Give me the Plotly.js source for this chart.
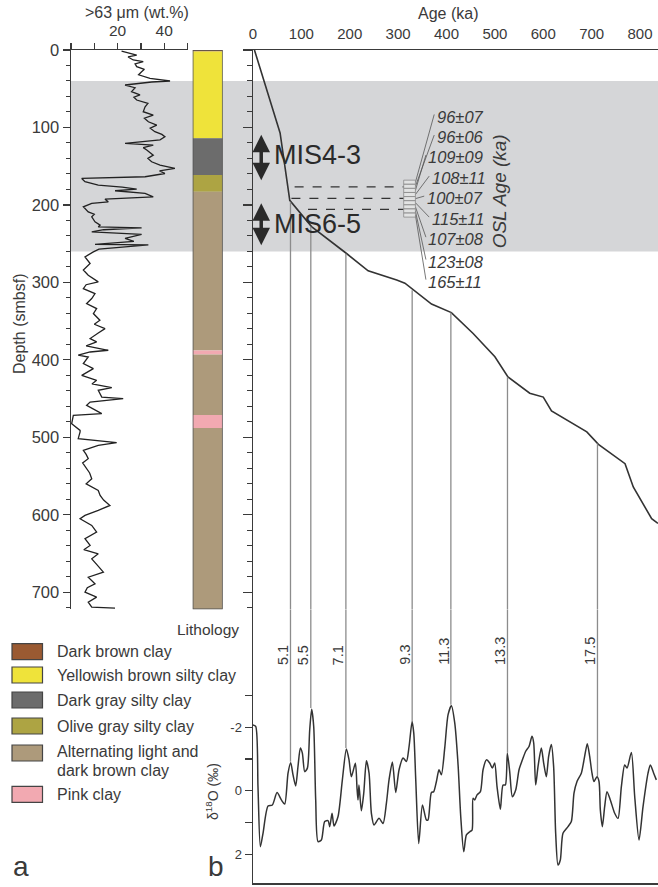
<!DOCTYPE html>
<html><head><meta charset="utf-8">
<script src="https://cdn.plot.ly/plotly-3.0.1.min.js"></script>
<style>html,body{margin:0;padding:0;background:#fff}#chart{width:658px;height:887px}</style>
</head><body><div id="chart"></div>
<script>
// ---------------- DATA ----------------
// (a) >63 µm sand content vs depth
const sandDepth = [1.3,4.3,6.5,9,12.9,15,18,21.5,25,28,32,36.6,40,41.3,45.2,48.7,53.8,58,61,64.6,69,73.2,79.7,84,88,92.6,96.9,101,105.5,109,112,116,120.6,122.7,126,129,135.7,140,144.3,148.6,152.9,156,159.4,163.6,165.8,170,174.4,177,179.6,181.7,185,189.5,192.5,196,198,202.4,208.9,212,215.4,221.8,226,228.3,229.5,232,234.7,238,243.3,247,251,251.5,254,257,260.6,267,275.6,284,290.7,299.3,303,308,314.4,320.8,327.3,333.8,340.2,348.8,354,359.6,365.2,372.5,376.8,382,387.6,389.8,394,396.3,404.8,411.3,420,426.4,431,435.8,439.3,448,450,454.4,458.7,464,469.4,471.6,482.3,491,493,501.7,506.9,510.3,516.8,522,527.5,533,540.4,546,553.4,560,568.5,575,581,587.9,594.3,600.8,605,613.7,622.3,630.9,639.5,645,650.3,656.8,664,674,680.5,689.1,694,699.9,706.3,712.8,719.2,720.5];
const sandPct   = [21.7,26,28.2,24.5,26.7,31,27.5,28.2,31.5,30.3,29,33.9,42.5,34.6,23.2,27.5,26,29.6,27,28.2,33,31.8,31,35.3,31.5,33.2,36.8,34,36,39,40.3,38.2,23.2,35.3,31,32.5,35.3,33,34.6,38.2,44.6,38,40.3,31.8,4.6,6,11.7,22,28.2,18.9,31.8,35.3,14.6,16,8.9,5.3,7.4,10,8.9,10.3,12.5,11.7,30.3,14,8.9,30.3,23.2,27,10.3,33.2,23.2,12,9.6,6,8.2,5.3,7.4,11.7,6.5,5.3,10.3,8.9,6.7,11,9.6,12.4,10,14.6,11.7,8.2,11,6.5,16,8.2,3.1,7.4,5.3,9.6,4.6,11,9,17.5,11.7,13.2,22.4,8.2,6.7,10,13.2,1,0.3,3.9,3.9,3.1,19.6,11.7,5.3,6.5,7.4,5,6.7,8,8.9,6.5,11.7,12.5,14,16.7,11.7,6,3.9,8.9,11,6,8.2,5.5,11.7,8.9,11,13.9,7.4,10.3,7,6,11,7.4,8.9,18.9];

// lithology column
const lithNames  = ['Dark brown clay','Yellowish brown silty clay','Dark gray silty clay','Olive gray silty clay','Alternating light and dark brown clay','Pink clay'];
const layerTop    = [0,2,114,161.5,183,388,393,471,488];
const layerBottom = [2,114,161.5,183,388,393,471,488,722];
const layerType   = [0,1,2,3,4,5,4,5,4];

// (b) age-depth model
const modelAge   = [3,56,76,121,194,238,297,314,369,410,455,500,527,572,600,617,690,714,769,786,824,837];
const modelDepth = [0,107,194,228,263,285,297,301,328,339,366,396,422,443,448,466,493,509,534,564,605,611];

// MIS tie points
const misLabels = ['5.1','5.5','7.1','9.3','11.3','13.3','17.5'];
const misAge    = [77.5,119.5,192,329,409,526,712];
const misDepth  = [196,228,263,310,339,422,508];
const misD18O   = [-0.91,-2.6,-1.34,-2.17,-2.7,-1.19,-0.44];

// benthic d18O stack
const d18Age = [0,5.6,10.3,15.2,20.7,31.1,40,49.7,58.6,65.5,72.4,77.9,82.7,88.2,93,97.9,102,106.9,112.4,117.2,121.3,125.5,129.6,134.5,141.3,148.2,155.1,158.6,163.4,167.5,175.8,184.7,193,198.5,203.3,211.6,215,217,219,224,228.9,234.4,239.9,244.7,250.2,260.5,268.8,275.7,281.2,288.1,295,301.9,310.2,317.1,322.6,328.8,332.3,336.4,342.6,350.2,358.4,361.8,368.7,373.5,379.1,384.5,389.4,396.3,403.2,410.1,417,423.9,429.4,435.6,441.1,448,452.8,454.8,458.3,463.1,470,475.5,482.4,489.3,494.8,499.6,504.4,511.3,516.8,521.6,525.7,530.6,536.1,543,549.9,556.8,563.7,570.5,576.7,580.2,584.3,589.1,596,600.8,606.3,611.1,616.6,621.4,625.6,630.4,635.2,640.7,651.1,658,663.5,669.7,678.6,685.5,691,695.9,700.7,704.8,711,715.2,717.9,722.1,726.9,731.7,738.6,747.6,754.5,761.4,768.3,773.1,782.1,789,797.9,806.2,816.5,821.3,828.2,833.7];
const d18Val = [-2.07,-2.02,-0.13,1.76,1.34,0.48,0.45,0.06,0.29,0.42,-0.55,-0.88,-0.5,-0.15,-0.76,-1.34,-1.18,-0.6,-0.71,-1.91,-2.56,-2.01,0.29,1.6,1.55,0.97,0.94,1.13,0.71,1.11,0.81,-0.34,-1.31,-0.97,-0.44,-0.86,-0.07,0.29,-0.18,0.63,0.08,-0.94,-0.55,0.71,1.08,0.87,1.03,0.4,-0.34,-0.9,0.06,-0.66,-1.03,-0.92,-1.39,-2.17,-1.81,-0.34,1.66,0.45,0.92,0.92,0.06,0.03,-0.29,-0.66,-0.5,-1.34,-2.39,-2.67,-2.13,-0.81,0.81,1.92,1.39,1.29,1.24,0.24,0.29,0.13,0.03,-0.66,-0.97,-0.87,-0.71,-0.87,-0.13,0.58,-0.18,-0.18,-1.18,-0.6,0.19,-0.02,-0.66,-0.97,-1.24,-1.39,-1.71,-1.5,-0.18,-0.76,-1.34,-0.87,-0.44,-1.08,-1.45,-0.76,1.34,2.34,2.18,1.34,1.13,0.97,0.08,-0.29,-0.55,-1.08,-1.48,-1.08,-0.55,-0.29,-0.44,-0.29,0.6,1.13,0.5,0.03,0.29,0.71,0.87,-0.13,-0.81,-0.71,-1.2,0.19,1.55,0.5,-0.55,-0.81,-0.55,-0.34];

// OSL samples
const oslLabels = ['96±07','96±06','109±09','108±11','100±07','115±11','107±08','123±08','165±11'];
const oslTop    = [168,173.3,178.6,183.9,189.2,194.5,199.8,205.1,210.4];
const oslBottom = [173.3,178.6,183.9,189.2,194.5,199.8,205.1,210.4,215.7];
const oslTieDepth = [176.6,191.6,205.8];
const oslTieStartAge = [86,79.4,113.7];

// MIS stage brackets
const stageNames = ['MIS4-3','MIS6-5'];
const stageTop   = [107.6,196];
const stageBot   = [168,252];
const bandTop = 40, bandBottom = 260;

// ---------------- STYLE / LAYOUT ----------------
const W=658,H=887;
const px = v => v/W, py = v => 1 - v/H;
const FONT = 'Liberation Sans, Arial, sans-serif';
const TXT = '#3a3a3a', AX = '#3a3a3a';
const lithColors = ['#9a5a32','#efe33a','#6c6c6c','#ada443','#ad9a7b','#f2a9b1'];

const depthMax = 722;
const depthTopPx = 50, depthPxPerM = 0.7747;
const depthBotPx = depthTopPx + depthMax*depthPxPerM;
const ageLeftPx = 253, agePxPerKa = 0.4838;
const ageMax = (W - ageLeftPx)/agePxPerKa;
const d0px = 790.7, dPx = 31.8;
const dTop = (depthBotPx - d0px)/dPx, dBot = (883 - d0px)/dPx;

const traces = [];
// sand curve
traces.push({type:'scatter',mode:'lines',x:sandPct,y:sandDepth,xaxis:'x',yaxis:'y',
  line:{color:'#222',width:1.3},hoverinfo:'skip'});
// lithology bars
traces.push({type:'bar',x:layerTop.map(()=>0),y:layerBottom.map((b,i)=>b-layerTop[i]),base:layerTop,
  width:1,xaxis:'x4',yaxis:'y',marker:{color:layerType.map(t=>lithColors[t]),line:{width:0}},hoverinfo:'skip'});
// age-depth model
traces.push({type:'scatter',mode:'lines',x:modelAge,y:modelDepth,xaxis:'x2',yaxis:'y2',
  line:{color:'#333',width:1.6},hoverinfo:'skip'});
// MIS vertical tie lines
const vx=[],vy=[],wx=[],wy=[];
misAge.forEach((a,i)=>{vx.push(a,a,null);vy.push(misDepth[i],depthMax,null);
  wx.push(a,a,null);wy.push(dTop,misD18O[i],null);});
traces.push({type:'scatter',mode:'lines',x:vx,y:vy,xaxis:'x2',yaxis:'y2',line:{color:'#8c8c8c',width:1.3},hoverinfo:'skip'});
traces.push({type:'scatter',mode:'lines',x:wx,y:wy,xaxis:'x3',yaxis:'y3',line:{color:'#8c8c8c',width:1.3},hoverinfo:'skip'});
// d18O curve
traces.push({type:'scatter',mode:'lines',x:d18Age,y:d18Val,xaxis:'x3',yaxis:'y3',
  line:{color:'#333',width:1.5,shape:'spline',smoothing:0.7},hoverinfo:'skip'});
// dashed OSL tie lines
const boxAge0 = 311.5, boxAge1 = 335.7;
const dx=[],dy=[];
oslTieDepth.forEach((d,i)=>{dx.push(oslTieStartAge[i],boxAge0,null);dy.push(d,d,null);});
traces.push({type:'scatter',mode:'lines',x:dx,y:dy,xaxis:'x2',yaxis:'y2',line:{color:'#333',width:1.3,dash:'dash'},hoverinfo:'skip'});
// OSL label positions (layout)
const oslLabAge = [375.6,375.6,358.4,365.2,354.9,365.2,358.4,358.4,358.4];
const oslLabDepth = [86.2,112.8,138.6,165.8,191.6,218.7,244.6,273.5,299.4];
const lx=[],ly=[];
oslLabels.forEach((l,i)=>{lx.push(boxAge1,oslLabAge[i]-1,null);ly.push((oslTop[i]+oslBottom[i])/2,oslLabDepth[i]-3,null);});
traces.push({type:'scatter',mode:'lines',x:lx,y:ly,xaxis:'x2',yaxis:'y2',line:{color:'#555',width:0.8},hoverinfo:'skip'});

const shapes = [];
shapes.push({type:'rect',xref:'paper',yref:'y',x0:px(71),x1:1,y0:bandTop,y1:bandBottom,fillcolor:'#d5d6d8',line:{width:0},layer:'below'});
shapes.push({type:'rect',xref:'x4',yref:'y',x0:-0.5,x1:0.5,y0:0,y1:depthMax,fillcolor:'rgba(0,0,0,0)',line:{color:'#555',width:1.5}});
oslTop.forEach((t,i)=>shapes.push({type:'rect',xref:'x2',yref:'y2',x0:boxAge0,x1:boxAge1,y0:t,y1:oslBottom[i],
  fillcolor:'rgba(235,235,235,0.6)',line:{color:'#8a8a8a',width:0.8}}));

const annotations = [];
const A = o => annotations.push(Object.assign({showarrow:false,xanchor:'center',yanchor:'middle',font:{family:FONT,size:16,color:TXT}},o));
A({text:'>63 μm (wt.%)',xref:'paper',yref:'paper',x:px(136.7),y:py(13)});
A({text:'Age (ka)',xref:'paper',yref:'paper',x:px(448),y:py(14)});
A({text:'Depth (smbsf)',xref:'paper',yref:'paper',x:px(19),y:py(324),textangle:-90});
A({text:'δ<sup>18</sup>O (‰)',xref:'paper',yref:'paper',x:px(212),y:py(792),textangle:-90,font:{family:FONT,size:14,color:TXT}});
A({text:'Lithology',xref:'paper',yref:'paper',x:px(208),y:py(629),font:{family:FONT,size:15.5,color:TXT}});
A({text:'a',xref:'paper',yref:'paper',x:px(21),y:py(866),font:{family:FONT,size:28,color:TXT}});
A({text:'b',xref:'paper',yref:'paper',x:px(216),y:py(866),font:{family:FONT,size:28,color:TXT}});
// MIS labels
misLabels.forEach((l,i)=>A({text:l,xref:'x3',yref:'y3',x:misAge[i],y:(667-d0px)/dPx,yanchor:'bottom',xshift:-7.5,textangle:-90,font:{family:FONT,size:14.5,color:TXT}}));
// stage brackets
stageNames.forEach((s,i)=>{
  annotations.push({xref:'x2',yref:'y2',axref:'x2',ayref:'y2',x:17,y:stageBot[i],ax:17,ay:stageTop[i],text:'',
    showarrow:true,arrowhead:2,arrowside:'end+start',arrowwidth:3.5,arrowsize:1,arrowcolor:'#2a2a2a'});
  A({text:s,xref:'x2',yref:'y2',x:40,y:(stageTop[i]+stageBot[i])/2+ (i===0?-2:0),xanchor:'left',font:{family:FONT,size:27,color:'#2a2a2a'}});
});
// OSL labels
oslLabels.forEach((l,i)=>A({text:'<i>'+l+'</i>',xref:'x2',yref:'y2',x:oslLabAge[i],y:oslLabDepth[i],xanchor:'left',font:{family:FONT,size:16.5,color:TXT}}));
A({text:'<i>OSL Age (ka)</i>',xref:'x2',yref:'y2',x:510,y:182.8,textangle:-90,font:{family:FONT,size:19,color:TXT}});
// legend
const legY = [651.7,675,700,726,753,794.3];
lithNames.forEach((n,i)=>{
  shapes.push({type:'rect',xref:'paper',yref:'paper',x0:px(12),x1:px(42.5),y0:py(legY[i]-8),y1:py(legY[i]+8),
    fillcolor:lithColors[i],line:{color:'#444',width:1.2}});
  if(i===4){
    A({text:'Alternating light and',xref:'paper',yref:'paper',x:px(55),y:py(751.5),xanchor:'left'});
    A({text:'dark brown clay',xref:'paper',yref:'paper',x:px(55),y:py(770),xanchor:'left'});
  } else {
    A({text:n,xref:'paper',yref:'paper',x:px(55),y:py(legY[i]),xanchor:'left'});
  }
});

const tf = (s)=>({family:FONT,size:s,color:TXT});
const layout = {
  width:W,height:H,margin:{l:0,r:0,t:0,b:0},paper_bgcolor:'#fff',plot_bgcolor:'rgba(0,0,0,0)',
  showlegend:false,barmode:'overlay',font:{family:FONT,color:TXT},
  xaxis:{domain:[px(71),px(71+50*2.33)],range:[0,50],side:'top',anchor:'y',showline:true,linecolor:AX,linewidth:1.5,
    tickvals:[0,10,20,30,40,50],ticktext:['','','20','','40',''],ticks:'outside',ticklen:6,tickcolor:AX,tickwidth:1.2,
    tickfont:tf(15.5),showgrid:false,zeroline:false},
  yaxis:{domain:[py(depthBotPx),py(depthTopPx)],range:[depthMax,0],anchor:'x',showline:true,linecolor:AX,linewidth:1.5,
    tickvals:[0,100,200,300,400,500,600,700],ticks:'outside',ticklen:7,tickcolor:AX,tickwidth:1.2,
    minor:{dtick:20,tick0:0,ticks:'outside',ticklen:4,tickcolor:AX,tickwidth:1},
    tickfont:tf(16.5),showgrid:false,zeroline:false},
  xaxis4:{domain:[px(192.7),px(222.7)],range:[-0.5,0.5],anchor:'y',visible:false},
  xaxis2:{domain:[px(ageLeftPx),1],range:[0,ageMax],side:'top',anchor:'y2',showline:true,linecolor:AX,linewidth:1.5,
    tickvals:[0,100,200,300,400,500,600,700,800],ticks:'outside',ticklen:4,tickcolor:'rgba(0,0,0,0)',tickfont:tf(15),showgrid:false,zeroline:false},
  yaxis2:{domain:[py(depthBotPx),py(depthTopPx)],range:[depthMax,0],anchor:'x2',showline:true,linecolor:AX,linewidth:1.5,
    tickvals:[0,100,200,300,400,500,600,700],ticks:'outside',ticklen:9,tickcolor:AX,tickwidth:1.2,showticklabels:false,
    minor:{dtick:20,tick0:0,ticks:'outside',ticklen:5,tickcolor:AX,tickwidth:1},showgrid:false,zeroline:false},
  xaxis3:{domain:[px(ageLeftPx),1],range:[0,ageMax],anchor:'y3',side:'bottom',showline:true,linecolor:AX,linewidth:1.5,
    ticks:'',showticklabels:false,showgrid:false,zeroline:false},
  yaxis3:{domain:[py(883),py(depthBotPx)],range:[dBot,dTop],anchor:'x3',showline:true,linecolor:AX,linewidth:1.5,
    tickvals:[-3,-2,-1,0,1,2],ticktext:['','-2','','0','','2'],ticks:'outside',ticklen:7,tickcolor:AX,tickwidth:1.2,
    tickfont:tf(13),showgrid:false,zeroline:false},
  shapes:shapes,annotations:annotations
};
Plotly.newPlot('chart',traces,layout,{staticPlot:true,displayModeBar:false});
</script>
</body></html>
